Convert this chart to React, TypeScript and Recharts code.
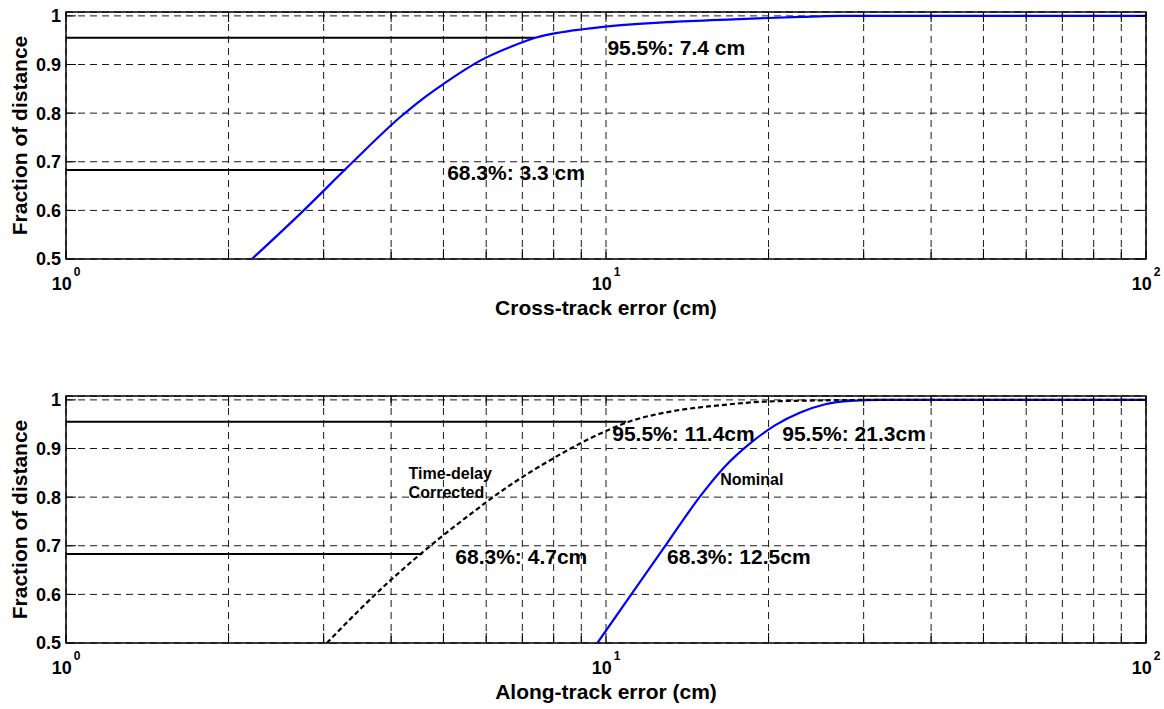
import React from "react";
import {
  LineChart,
  Line,
  XAxis,
  YAxis,
  CartesianGrid,
  ReferenceArea,
  ReferenceDot,
} from "recharts";

const FONT = "'Liberation Sans', Arial, Helvetica, sans-serif";

// log axis: grid at every 1..9 x decade, labels only on decades
const xTicks = [1, 2, 3, 4, 5, 6, 7, 8, 9, 10, 20, 30, 40, 50, 60, 70, 80, 90, 100];
const yTicks = [0.5, 0.6, 0.7, 0.8, 0.9, 1];
const Y_MAX = 1.008;

// top panel: cross-track error CDF
const crossErr = [2.21, 2.75, 3.4, 4.16, 4.57, 5.0, 5.42, 5.85, 6.65, 7.4, 8.13, 8.97, 9.97, 12.97, 17.2, 22.9, 27, 100];
const crossFrac = [0.5, 0.599, 0.7, 0.792, 0.829, 0.86, 0.886, 0.908, 0.936, 0.955, 0.965, 0.972, 0.978, 0.987, 0.993, 0.998, 1.0, 1.0];
const crossLevelErr = [3.3, 7.4];
const crossLevelFrac = [0.683, 0.955];
const crossNoteText = ["95.5%: 7.4 cm", "68.3%: 3.3 cm"];
const crossNoteErr = [10.06, 5.08];
const crossNoteFrac = [0.936, 0.678];

// bottom panel: along-track error CDF, nominal and time-delay corrected
const nominalErr = [9.64, 11.23, 12.99, 14.95, 16.64, 18.51, 20.59, 22.9, 25.48, 28.36, 32.24, 100];
const nominalFrac = [0.5, 0.6055, 0.706, 0.802, 0.864, 0.911, 0.948, 0.974, 0.991, 0.998, 1.0, 1.0];
const correctedErr = [3.04, 3.98, 4.73, 5.61, 6.65, 7.88, 9.35, 11.09, 13.16, 16.28, 19.32, 24.95, 32.24, 100];
const correctedFrac = [0.5, 0.628, 0.7, 0.765, 0.825, 0.876, 0.921, 0.956, 0.976, 0.989, 0.996, 0.999, 1.0, 1.0];
const alongLevelErr = [4.57, 10.9];
const alongLevelFrac = [0.683, 0.955];
const alongNoteText = ["95.5%: 11.4cm", "95.5%: 21.3cm", "68.3%: 4.7cm", "68.3%: 12.5cm"];
const alongNoteErr = [10.27, 21.2, 5.26, 12.97];
const alongNoteFrac = [0.93, 0.93, 0.678, 0.678];
const curveNoteText = ["Time-delay", "Corrected", "Nominal"];
const curveNoteErr = [4.31, 4.31, 16.28];
const curveNoteFrac = [0.849, 0.811, 0.837];

type Pt = { x: number; y: number };
const zip = (xs: number[], ys: number[]): Pt[] => xs.map((x, i) => ({ x, y: ys[i] }));
const levelSeg = (err: number, frac: number): Pt[] => [
  { x: 1, y: frac },
  { x: err, y: frac },
];

type Note = { text: string; x: number; y: number; size: number };
const notes = (t: string[], xs: number[], ys: number[], size: number): Note[] =>
  t.map((text, i) => ({ text, x: xs[i], y: ys[i], size }));

type Curve = { data: Pt[]; color: string; dash?: string };

type PanelProps = {
  top: number;
  height: number;
  marginTop: number;
  axisH: number;
  curves: Curve[];
  levels: Pt[][];
  labels: Note[];
  xTitle: string;
};

const W = 1164;
const PLOT_LEFT = 66;
const RIGHT = 18;
const PLOT_W = W - PLOT_LEFT - RIGHT;

function Panel({ top, height, marginTop, axisH, curves, levels, labels, xTitle }: PanelProps) {
  const plotH = height - marginTop - axisH;

  const XTick = (props: any) => {
    const { x, y, payload } = props;
    const v = payload.value as number;
    const exp = Math.round(Math.log10(v));
    const decade = Math.abs(Math.pow(10, exp) - v) < 1e-9;
    return (
      <g>
        <line x1={x} x2={x} y1={y} y2={y - 10} stroke="#000" />
        <line x1={x} x2={x} y1={y - plotH} y2={y - plotH + 10} stroke="#000" />
        {decade && (
          <text x={x} y={y + 31} textAnchor="middle" fontSize={18} fontWeight="bold" fill="#000" fontFamily={FONT}>
            10
            <tspan dx={2} dy={-14} fontSize={12}>
              {exp}
            </tspan>
          </text>
        )}
      </g>
    );
  };

  const YTick = (props: any) => {
    const { x, y, payload } = props;
    const v = payload.value as number;
    return (
      <g>
        <line x1={x} x2={x + 10} y1={y} y2={y} stroke="#000" />
        <line x1={x + PLOT_W - 10} x2={x + PLOT_W} y1={y} y2={y} stroke="#000" />
        <text x={x - 5} y={y} dy="0.36em" textAnchor="end" fontSize={18} fontWeight="bold" fill="#000" fontFamily={FONT}>
          {v === 1 ? "1" : v.toFixed(1)}
        </text>
      </g>
    );
  };

  return (
    <div style={{ position: "absolute", left: 0, top, width: W, height }}>
      <LineChart width={W} height={height} margin={{ top: marginTop, right: RIGHT, bottom: 0, left: 0 }}>
        <CartesianGrid stroke="#1a1a1a" strokeDasharray="7 5" strokeWidth={1} />
        <XAxis
          dataKey="x"
          type="number"
          scale="log"
          domain={[1, 100]}
          ticks={xTicks}
          interval={0}
          allowDataOverflow
          height={axisH}
          tickSize={0}
          tickMargin={0}
          tickLine={false}
          axisLine={false}
          tick={XTick}
          label={(p: any) => {
            const vb = p.viewBox;
            return (
              <text
                x={vb.x + vb.width / 2}
                y={vb.y + 48}
                dy="0.36em"
                textAnchor="middle"
                fontSize={21}
                fontWeight="bold"
                fill="#000"
                fontFamily={FONT}
              >
                {xTitle}
              </text>
            );
          }}
        />
        <YAxis
          type="number"
          domain={[0.5, Y_MAX]}
          ticks={yTicks}
          interval={0}
          allowDataOverflow
          width={PLOT_LEFT}
          tickSize={0}
          tickMargin={0}
          tickLine={false}
          axisLine={false}
          tick={YTick}
          label={(p: any) => {
            const vb = p.viewBox;
            const cx = vb.x + 19;
            const cy = vb.y + vb.height / 2;
            return (
              <text
                x={cx}
                y={cy}
                dy="0.36em"
                textAnchor="middle"
                transform={`rotate(-90, ${cx}, ${cy})`}
                fontSize={21}
                fontWeight="bold"
                fill="#000"
                fontFamily={FONT}
              >
                Fraction of distance
              </text>
            );
          }}
        />
        <ReferenceArea x1={1} x2={100} y1={0.5} y2={Y_MAX} fill="none" stroke="#000" strokeWidth={1.5} />
        {levels.map((seg, i) => (
          <Line
            key={`lvl${i}`}
            data={seg}
            dataKey="y"
            type="linear"
            stroke="#000"
            strokeWidth={2}
            dot={false}
            isAnimationActive={false}
          />
        ))}
        {curves.map((c, i) => (
          <Line
            key={`c${i}`}
            data={c.data}
            dataKey="y"
            type="monotone"
            stroke={c.color}
            strokeWidth={2.2}
            strokeDasharray={c.dash}
            dot={false}
            isAnimationActive={false}
          />
        ))}
        {labels.map((n, i) => (
          <ReferenceDot
            key={`n${i}`}
            x={n.x}
            y={n.y}
            r={0}
            ifOverflow="visible"
            shape={(p: any) => (
              <text
                x={p.cx}
                y={p.cy}
                dy="0.36em"
                fontSize={n.size}
                fontWeight="bold"
                fill="#000"
                fontFamily={FONT}
              >
                {n.text}
              </text>
            )}
          />
        ))}
      </LineChart>
    </div>
  );
}

export default function App() {
  return (
    <div style={{ position: "absolute", left: 0, top: 0, width: W, height: 709, background: "#fff" }}>
      <Panel
        top={0}
        height={330}
        marginTop={12}
        axisH={71}
        curves={[{ data: zip(crossErr, crossFrac), color: "#0000ff" }]}
        levels={[levelSeg(crossLevelErr[0], crossLevelFrac[0]), levelSeg(crossLevelErr[1], crossLevelFrac[1])]}
        labels={notes(crossNoteText, crossNoteErr, crossNoteFrac, 21)}
        xTitle="Cross-track error (cm)"
      />
      <Panel
        top={380}
        height={329}
        marginTop={16}
        axisH={66}
        curves={[
          { data: zip(nominalErr, nominalFrac), color: "#0000ff" },
          { data: zip(correctedErr, correctedFrac), color: "#000", dash: "5 3" },
        ]}
        levels={[levelSeg(alongLevelErr[0], alongLevelFrac[0]), levelSeg(alongLevelErr[1], alongLevelFrac[1])]}
        labels={[
          ...notes(alongNoteText, alongNoteErr, alongNoteFrac, 21),
          ...notes(curveNoteText, curveNoteErr, curveNoteFrac, 16),
        ]}
        xTitle="Along-track error (cm)"
      />
    </div>
  );
}
